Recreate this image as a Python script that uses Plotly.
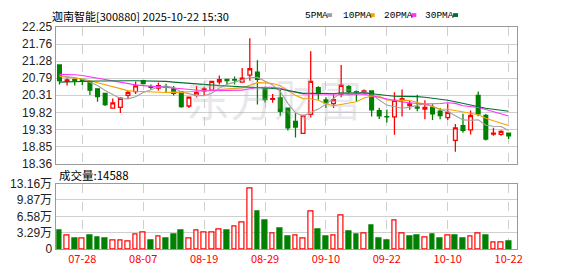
import plotly.graph_objects as go
import pandas as pd

# ---------------- data ----------------
dates = ["07-23", "07-24", "07-25", "07-28", "07-29", "07-30", "07-31", "08-01",
         "08-04", "08-05", "08-06", "08-07", "08-08", "08-11", "08-12", "08-13",
         "08-14", "08-15", "08-18", "08-19", "08-20", "08-21", "08-22", "08-25",
         "08-26", "08-27", "08-28", "08-29", "09-01", "09-02", "09-03", "09-04",
         "09-05", "09-08", "09-09", "09-10", "09-11", "09-12", "09-15", "09-16",
         "09-17", "09-18", "09-19", "09-22", "09-23", "09-24", "09-25", "09-26",
         "09-29", "09-30", "10-09", "10-10", "10-13", "10-14", "10-15", "10-16",
         "10-17", "10-20", "10-21", "10-22"]

opens = [21.17, 20.70, 20.76, 20.76, 20.68, 20.49, 20.36, 19.94, 19.96, 20.30,
         20.41, 20.72, 20.55, 20.51, 20.55, 20.49, 20.40, 20.00, 20.31, 20.43,
         20.45, 20.69, 20.76, 20.75, 20.68, 20.88, 20.96, 20.52, 20.19, 20.23,
         19.94, 19.56, 19.22, 19.76, 20.52, 20.17, 20.07, 20.33, 20.55, 20.41,
         20.39, 20.43, 19.87, 19.70, 19.69, 20.15, 20.01, 19.97, 19.91, 19.96,
         19.85, 19.67, 19.02, 19.44, 19.32, 20.30, 19.73, 19.20, 19.19, 19.23]
highs = [21.18, 20.79, 20.77, 20.77, 20.70, 20.50, 20.37, 20.21, 20.25, 20.43,
         20.70, 20.75, 20.61, 20.67, 20.63, 20.57, 20.42, 20.27, 20.57, 20.54,
         20.72, 20.87, 20.77, 20.84, 21.08, 21.93, 21.30, 20.55, 20.34, 20.47,
         19.96, 19.80, 19.75, 21.56, 20.56, 20.25, 20.33, 21.17, 20.60, 20.44,
         20.47, 20.45, 19.95, 19.90, 20.39, 20.47, 20.17, 20.32, 20.16, 20.05,
         19.94, 20.07, 19.49, 19.78, 19.87, 20.41, 19.77, 19.38, 19.31, 19.23]
lows = [20.61, 20.58, 20.58, 20.60, 20.31, 20.12, 20.00, 19.93, 19.80, 20.21,
        20.34, 20.63, 20.48, 20.44, 20.40, 20.30, 19.95, 19.94, 20.25, 20.30,
        20.43, 20.61, 20.62, 20.61, 20.67, 20.72, 20.04, 20.10, 20.09, 19.72,
        19.30, 19.10, 19.21, 19.67, 20.18, 19.94, 19.94, 20.25, 20.35, 20.12,
        20.35, 19.70, 19.63, 19.53, 19.18, 19.70, 19.89, 19.85, 19.62, 19.60,
        19.62, 19.60, 18.70, 19.24, 19.19, 19.71, 19.02, 19.15, 19.15, 19.06]
closes = [20.72, 20.74, 20.72, 20.73, 20.45, 20.27, 20.04, 20.09, 20.22, 20.39,
          20.57, 20.64, 20.53, 20.58, 20.53, 20.36, 19.98, 20.25, 20.39, 20.49,
          20.70, 20.75, 20.72, 20.74, 20.79, 21.06, 20.76, 20.18, 20.21, 19.85,
          19.38, 19.40, 19.73, 20.70, 20.35, 20.09, 20.18, 20.59, 20.41, 20.40,
          20.43, 19.89, 19.72, 19.69, 20.16, 20.21, 20.06, 19.94, 19.96, 19.78,
          19.73, 19.82, 19.38, 19.31, 19.73, 19.78, 19.06, 19.23, 19.28, 19.15]
volumes = [36200, 26700, 21000, 21000, 26700, 22900, 21000, 16500, 16500, 15300,
           29900, 33700, 17200, 24800, 21000, 28600, 36200, 21000, 37500, 33700,
           33700, 40000, 36200, 45100, 52800, 121500, 76300, 57200, 31800, 42000,
           24800, 26700, 21000, 76300, 40000, 25400, 26700, 66700, 34300, 28600,
           30500, 47700, 21000, 17200, 57200, 31800, 25400, 27300, 22300, 28600,
           21000, 26700, 26700, 21000, 24800, 31800, 26700, 13300, 13300, 14588]

# moving-average values at the start of the window (their history is off-chart)
ma5_head = [20.86, 20.84, 20.81, 20.76]
ma10_head = [20.84, 20.82, 20.80, 20.77, 20.72, 20.66, 20.60, 20.54, 20.49]
ma20_head = [20.90, 20.90, 20.89, 20.87, 20.83, 20.80, 20.75, 20.70, 20.66, 20.63,
             20.60, 20.58, 20.57, 20.56, 20.53, 20.51, 20.49, 20.47, 20.45]
ma30_head = [20.68, 20.69, 20.69, 20.70, 20.70, 20.71, 20.71, 20.72, 20.72, 20.72,
             20.72, 20.72, 20.72, 20.71, 20.70, 20.68, 20.66, 20.64, 20.62, 20.61,
             20.59, 20.58, 20.57, 20.56, 20.55, 20.54, 20.53, 20.52, 20.51]

price_ticks = [18.36, 18.85, 19.33, 19.82, 20.31, 20.79, 21.28, 21.76, 22.25]
vol_ticks = [0, 32900, 65800, 98700, 131600]
vol_tick_text = ["0", "3.29万", "6.58万", "9.87万", "13.16万"]
date_ticks = ["07-28", "08-07", "08-19", "08-29", "09-10", "09-22", "10-10", "10-22"]

title_text = "迦南智能[300880] 2025-10-22 15:30"
vol_label = "成交量:14588"
watermark = "东方财富"

# ---------------- derived ----------------
n = len(closes)
idx = list(range(n))
cs = pd.Series(closes)


def ma(period, head):
    vals = cs.rolling(period).mean().round(3).tolist()
    return head + vals[len(head):]


ma_specs = [("5PMA", 5, ma5_head, "#a0a0a0"),
            ("10PMA", 10, ma10_head, "#f5a300"),
            ("20PMA", 20, ma20_head, "#ff33ff"),
            ("30PMA", 30, ma30_head, "#006f2f")]

RED = "#ff0000"
GREEN = "#008000"

vol_up = []
for i in idx:
    if i == 0:
        vol_up.append(closes[0] >= opens[0])
    else:
        vol_up.append(closes[i] > closes[i - 1])

W, H = 578, 276
x0p, x1p = 56, 522
xdom = [x0p / W, x1p / W]
pdom = [1 - 165 / H, 1 - 21 / H]
vdom = [1 - 255 / H, 1 - 186 / H]
xr = [-0.52, 60.16]

fig = go.Figure()

fig.add_trace(go.Candlestick(
    x=idx, open=opens, high=highs, low=lows, close=closes,
    increasing=dict(line=dict(color=RED, width=1.3), fillcolor="#ffffff"),
    decreasing=dict(line=dict(color=GREEN, width=1.3), fillcolor=GREEN),
    whiskerwidth=0, xaxis="x", yaxis="y", showlegend=False, hoverinfo="skip"))

for name, p, head, col in ma_specs:
    fig.add_trace(go.Scatter(x=idx, y=ma(p, head), mode="lines", name=name,
                             line=dict(color=col, width=1.1), xaxis="x", yaxis="y",
                             showlegend=False, hoverinfo="skip"))

fig.add_trace(go.Bar(
    x=idx, y=volumes, width=0.62,
    marker=dict(color=["#ffffff" if u else GREEN for u in vol_up],
                line=dict(color=[RED if u else GREEN for u in vol_up], width=1.2)),
    xaxis="x2", yaxis="y2", showlegend=False, hoverinfo="skip"))

tick_pos = [dates.index(d) for d in date_ticks]
grid = "#cfcfcf"
border = "#9a9a9a"
tickfont = dict(family="Liberation Sans, Arial, sans-serif", size=12, color="#222222")

fig.update_layout(
    width=W, height=H, margin=dict(l=0, r=0, t=0, b=0),
    paper_bgcolor="#ffffff", plot_bgcolor="#ffffff",
    showlegend=False, bargap=0,
    xaxis=dict(domain=xdom, anchor="y", range=xr, tickvals=tick_pos,
               showticklabels=False, showgrid=True, gridcolor=grid, griddash="dash",
               gridwidth=1, zeroline=False, showline=True, mirror=True,
               linecolor=border, linewidth=1, rangeslider=dict(visible=False),
               fixedrange=True),
    yaxis=dict(domain=pdom, anchor="x", range=[price_ticks[0], price_ticks[-1]],
               tickvals=price_ticks, ticktext=[f"{v:.2f}" for v in price_ticks],
               showgrid=True, gridcolor=grid, gridwidth=1, zeroline=False,
               showline=True, mirror=True, linecolor=border, linewidth=1,
               tickfont=tickfont, ticks="", fixedrange=True),
    xaxis2=dict(domain=xdom, anchor="y2", range=xr, tickvals=tick_pos,
                ticktext=date_ticks, showgrid=True, gridcolor=grid, griddash="dash",
                zeroline=False, showline=True, mirror=True, linecolor=border,
                linewidth=1, ticks="",
                tickfont=dict(family="Noto Sans CJK SC", size=11, color=RED),
                fixedrange=True),
    yaxis2=dict(domain=vdom, anchor="x2", range=[vol_ticks[0], vol_ticks[-1]],
                tickvals=vol_ticks, ticktext=vol_tick_text, showgrid=True,
                gridcolor=grid, zeroline=False, showline=True, mirror=True,
                linecolor=border, linewidth=1, ticks="",
                tickfont=dict(family="Liberation Sans, Noto Sans CJK SC", size=12,
                              color="#222222"),
                fixedrange=True),
)

annos = [
    dict(text=title_text, x=50 / W, y=1 - 9 / H, xref="paper", yref="paper",
         xanchor="left", yanchor="middle", showarrow=False,
         font=dict(family="Noto Sans CJK SC", size=11, color="#000000")),
    dict(text=vol_label, x=57 / W, y=1 - 177 / H, xref="paper", yref="paper",
         xanchor="left", yanchor="middle", showarrow=False,
         font=dict(family="Noto Sans CJK SC", size=11.5, color="#000000")),
    dict(text=watermark, x=276 / W, y=1 - 96 / H, xref="paper", yref="paper",
         xanchor="center", yanchor="middle", showarrow=False,
         font=dict(family="Noto Sans CJK SC", size=44, color="rgba(175,175,190,0.28)")),
]
shapes = []
legend_x = [(306, 330), (344, 373), (385, 415), (427, 457)]
for (tx, sx), (name, p, head, col) in zip(legend_x, ma_specs):
    annos.append(dict(text=name, x=tx / W, y=1 - 9 / H, xref="paper", yref="paper",
                      xanchor="left", yanchor="middle", showarrow=False,
                      font=dict(family="Liberation Mono, monospace", size=9.5,
                                color="#000000")))
    shapes.append(dict(type="rect", xref="paper", yref="paper",
                       x0=sx / W, x1=(sx + 5) / W, y0=1 - 10.5 / H, y1=1 - 6.5 / H,
                       fillcolor=col, line=dict(width=0)))
fig.update_layout(annotations=annos, shapes=shapes)

fig.write_html("out.html")
